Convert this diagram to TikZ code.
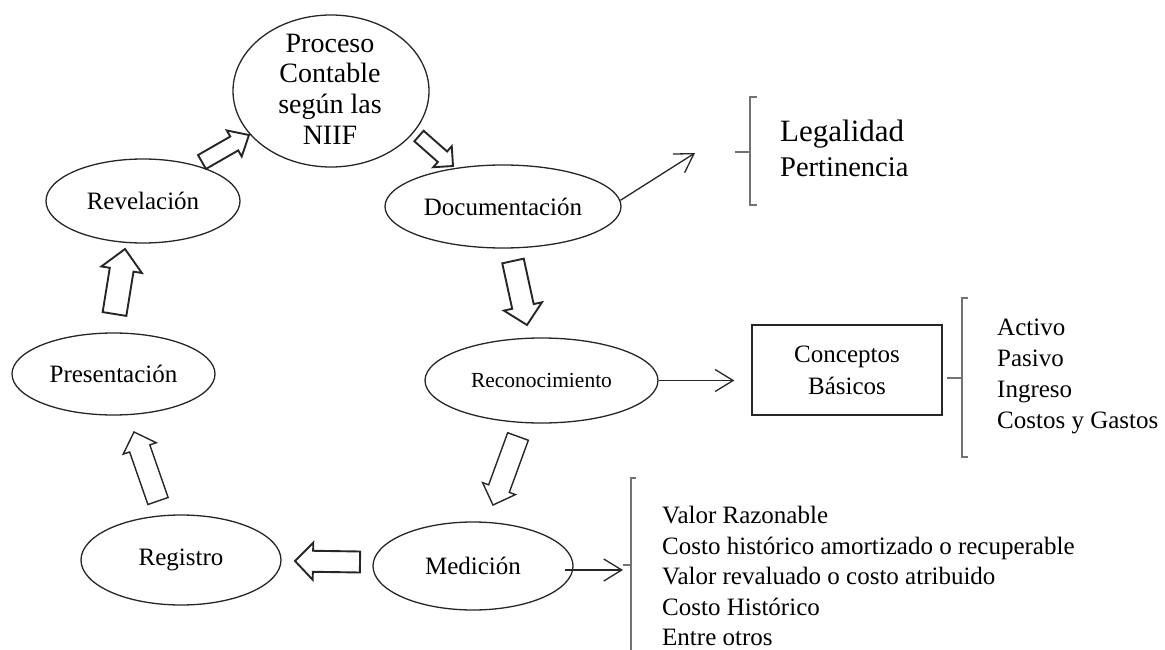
\documentclass[tikz,border=0pt]{standalone}
\usepackage{fontspec}
\setmainfont{Liberation Serif}
\usetikzlibrary{shapes.geometric,arrows.meta,calc}

\tikzset{
  stage/.style={draw=black!85, line width=1.3pt, ellipse, inner sep=0pt,
    font=\fontsize{25}{30}\selectfont},
  hollow/.style={draw=black!85, line width=1.9pt, line join=miter, fill=white},
  slim/.style={line width=1.4pt},
  thinarrow/.style={draw=black!85, line width=1.3pt,
    -{Straight Barb[length=18pt,width=22pt]}},
  brace/.style={draw=black!55, line width=1.6pt},
  item/.style={anchor=base west, inner sep=0pt, font=\fontsize{25}{30}\selectfont},
}

% block arrow: [style] {from} {to} {body half-width} {head half-width} {head length}
\newcommand\hollowarrow[6][]{%
  \draw[hollow,#1] let \p1=#2, \p2=#3,
      \n1={atan2(\y2-\y1,\x2-\x1)},
      \n2={veclen(\x2-\x1,\y2-\y1)-#6}
    in ($(\p1)+(\n1+90:#4pt)$)
    -- ($(\p1)+(\n1:\n2)+(\n1+90:#4pt)$)
    -- ($(\p1)+(\n1:\n2)+(\n1+90:#5pt)$)
    -- (\p2)
    -- ($(\p1)+(\n1:\n2)+(\n1-90:#5pt)$)
    -- ($(\p1)+(\n1:\n2)+(\n1-90:#4pt)$)
    -- ($(\p1)+(\n1-90:#4pt)$) -- cycle;
}

\begin{document}
\begin{tikzpicture}[x=1pt,y=-1pt]
\useasboundingbox (0,0) rectangle (1165,650);

% stages of the cycle
\node[stage, minimum width=196pt, minimum height=152pt] (proc) at (331,91) {};
\node[align=center, inner sep=0pt, font=\fontsize{28}{30.7}\selectfont] (proctext) at (330,89)
  {Proceso\\Contable\\según las\\NIIF};
\node[stage, minimum width=236pt, minimum height=83pt] (doc) at (503,206.5) {Documentación};
\node[stage, minimum width=233pt, minimum height=85pt, font=\fontsize{21.5}{26}\selectfont]
  (recon) at (541.5,380.5) {Reconocimiento};
\node[stage, minimum width=200pt, minimum height=88pt] (med) at (473,566) {Medición};
\node[stage, minimum width=200pt, minimum height=90pt] (reg) at (181,560) {Registro};
\node[stage, minimum width=203pt, minimum height=82pt] (pres) at (113.5,374) {Presentación};
\node[stage, minimum width=194pt, minimum height=84pt] (rev) at (143,201) {Revelación};

% block arrows between stages
\coordinate (a1s) at (202,162);   \coordinate (a1e) at (249,135);
\coordinate (a2s) at (419,136);   \coordinate (a2e) at (453,166);
\coordinate (a3s) at (513,261);   \coordinate (a3e) at (527,325);
\coordinate (a4s) at (518,436.5); \coordinate (a4e) at (493,505);
\coordinate (a5s) at (360,562);   \coordinate (a5e) at (295,561);
\coordinate (a6s) at (158,501);   \coordinate (a6e) at (134,432);
\coordinate (a7s) at (114.5,314); \coordinate (a7e) at (125,249);

\hollowarrow{(a1s)}{(a1e)}{8}{15}{17}
\hollowarrow{(a2s)}{(a2e)}{7}{14}{14}
\hollowarrow{(a3s)}{(a3e)}{11}{19.5}{19}
\hollowarrow[slim]{(a4s)}{(a4e)}{11}{17.5}{17.4}
\hollowarrow{(a5s)}{(a5e)}{10.5}{18.5}{18}
\hollowarrow[slim]{(a6s)}{(a6e)}{10.7}{17.5}{17.4}
\hollowarrow{(a7s)}{(a7e)}{12}{20.5}{21}

% Documentación -> legal criteria
\coordinate (legtip) at (695,153);
\draw[thinarrow] (doc.3) -- (legtip);
\draw[brace] (757,97) -- (750,97) -- (750,205) -- (757,205);
\draw[brace] (735,152) -- (750,152);
\node[anchor=base west, inner sep=0pt, font=\fontsize{31}{34}\selectfont] (leg1) at (780,142) {Legalidad};
\node[anchor=base west, inner sep=0pt, font=\fontsize{28.5}{32}\selectfont] (leg2) at (780,177) {Pertinencia};

% Reconocimiento -> basic concepts
\node[draw=black!85, line width=1.3pt, minimum width=190pt, minimum height=90pt,
  align=center, inner sep=0pt, font=\fontsize{25}{32}\selectfont] (concept) at (847,370)
  {Conceptos\\Básicos};
\draw[thinarrow, shorten >=17pt] (recon.east) -- (recon.east -| concept.west);
\draw[brace] (968,298) -- (962,298) -- (962,457) -- (968,457);
\draw[brace] (947,378) -- (962,378);
\node[item] (c1) at (997,335) {Activo};
\node[item] (c2) at (997,366) {Pasivo};
\node[item] (c3) at (997,397) {Ingreso};
\node[item] (c4) at (997,428) {Costos y Gastos};

% Medición -> measurement bases
\coordinate (medtip) at (623,570);
\draw[thinarrow, shorten <=-9pt] (med.east |- medtip) -- (medtip);
\draw[brace] (636,478) -- (631,478) -- (631,652);
\draw[brace] (623,565) -- (631,565);
\node[item] (m1) at (662,523) {Valor Razonable};
\node[item] (m2) at (662,554) {Costo histórico amortizado o recuperable};
\node[item] (m3) at (662,584) {Valor revaluado o costo atribuido};
\node[item] (m4) at (662,615) {Costo Histórico};
\node[item] (m5) at (662,645) {Entre otros};
\end{tikzpicture}
\end{document}
